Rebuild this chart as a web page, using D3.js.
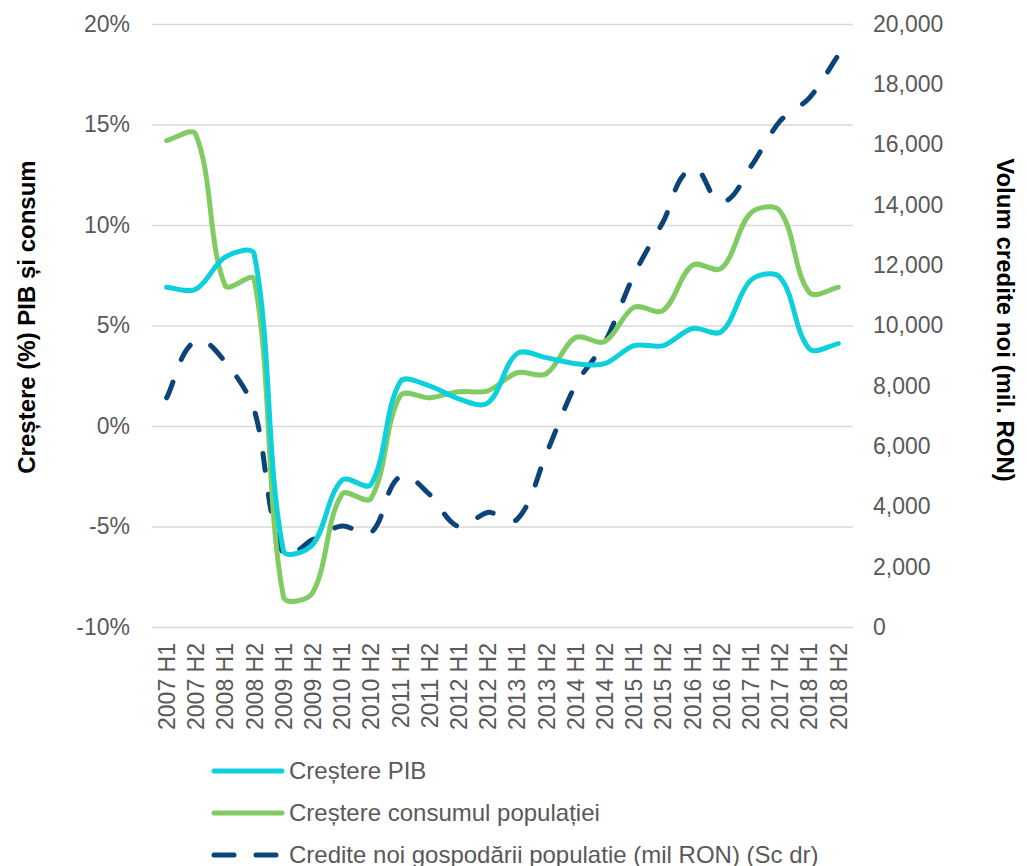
<!DOCTYPE html>
<html lang="ro">
<head>
    <meta charset="UTF-8">
    <title>PIB, consum si credite noi</title>
    <script src="https://d3js.org/d3.v7.min.js"></script>
    <style>
        body { margin: 0; background: #fff; }
        svg { font-family: "Liberation Sans", Arial, sans-serif; }
    </style>
</head>
<body>

<svg width="1027" height="866"></svg>

<script>

    // semestre
    var categories = ["2007 H1","2007 H2","2008 H1","2008 H2","2009 H1","2009 H2","2010 H1","2010 H2",
        "2011 H1","2011 H2","2012 H1","2012 H2","2013 H1","2013 H2","2014 H1","2014 H2",
        "2015 H1","2015 H2","2016 H1","2016 H2","2017 H1","2017 H2","2018 H1","2018 H2"];

    // cresterea PIB (%)
    var pib = [6.9, 6.8, 8.4, 8.55, -6.2, -5.9, -2.7, -2.9, 2.2, 2.0, 1.35, 1.15,
        3.6, 3.4, 3.1, 3.1, 4.0, 4.0, 4.85, 4.7, 7.25, 7.4, 3.85, 4.1];

    // cresterea consumului populatiei (%)
    var consum = [14.2, 14.5, 7.0, 7.3, -8.5, -8.3, -3.4, -3.6, 1.5, 1.4, 1.7, 1.75,
        2.65, 2.6, 4.4, 4.2, 5.9, 5.75, 8.0, 7.85, 10.6, 10.7, 6.65, 6.9];

    // credite noi gospodarii (mil RON), scala din dreapta
    var credite = [7600, 9500, 8800, 7200, 2400, 2900, 3350, 3130, 5000, 4400, 3330, 3800,
        3570, 5750, 8030, 9430, 11680, 13440, 15200, 14100, 15270, 16780, 17540, 18970];

    var leftTicks = [-10, -5, 0, 5, 10, 15, 20];
    var rightTicks = [0, 2000, 4000, 6000, 8000, 10000, 12000, 14000, 16000, 18000, 20000];

    var mLeft = 152, mRight = 853, mTop = 24, mBottom = 627;
    var w = mRight - mLeft, h = mBottom - mTop;

    var svg = d3.select('svg');
    var g = svg.append('g').attr('transform', 'translate(' + mLeft + ',' + mTop + ')');

    var x = d3.scaleBand().domain(categories).range([0, w]);
    var yL = d3.scaleLinear().domain([-10, 20]).range([h, 0]);
    var yR = d3.scaleLinear().domain([0, 20000]).range([h, 0]);

    // linii de grila
    var grid = g.append('g')
        .call(d3.axisLeft(yL).tickValues(leftTicks).tickSize(-w).tickFormat(''));
    grid.select('.domain').remove();
    grid.selectAll('line').attr('stroke', '#d9d9d9').attr('stroke-width', 1.5);

    // axa stanga
    var axL = g.append('g')
        .call(d3.axisLeft(yL).tickValues(leftTicks).tickSize(0).tickPadding(22)
            .tickFormat(function (d) { return d + '%'; }));
    axL.select('.domain').remove();

    // axa dreapta
    var axR = g.append('g')
        .attr('transform', 'translate(' + w + ',0)')
        .call(d3.axisRight(yR).tickValues(rightTicks).tickSize(0).tickPadding(20)
            .tickFormat(d3.format(',')));
    axR.select('.domain').remove();

    // axa x, etichete verticale
    var axX = g.append('g')
        .attr('transform', 'translate(0,' + h + ')')
        .call(d3.axisBottom(x).tickSize(0));
    axX.select('.domain').remove();
    axX.selectAll('text')
        .attr('transform', 'rotate(-90)')
        .attr('x', -16)
        .attr('y', 0)
        .attr('dy', '0.36em')
        .style('text-anchor', 'end');

    svg.selectAll('.tick text')
        .attr('fill', '#595959')
        .style('font-size', '23px')
        .style('font-family', '"Liberation Sans", Arial, sans-serif');

    // linie netezita (bezier, tangenta P[i+1]-P[i-1], lungime dupa segment) ca in Excel
    function smooth(values, yScale) {
        var pts = values.map(function (v, i) {
            return [x(categories[i]) + x.bandwidth() / 2, yScale(v)];
        });
        var n = pts.length, k = 0.3;
        function dir(i) {
            var a = pts[Math.max(i - 1, 0)], b = pts[Math.min(i + 1, n - 1)];
            var dx = b[0] - a[0], dy = b[1] - a[1], l = Math.hypot(dx, dy) || 1;
            return [dx / l, dy / l];
        }
        var p = d3.path();
        p.moveTo(pts[0][0], pts[0][1]);
        for (var i = 0; i < n - 1; i++) {
            var a = pts[i], b = pts[i + 1];
            var len = Math.hypot(b[0] - a[0], b[1] - a[1]) * k;
            var t1 = dir(i), t2 = dir(i + 1);
            p.bezierCurveTo(a[0] + t1[0] * len, a[1] + t1[1] * len,
                b[0] - t2[0] * len, b[1] - t2[1] * len, b[0], b[1]);
        }
        return p.toString();
    }

    g.append('path')
        .attr('d', smooth(credite, yR))
        .attr('fill', 'none')
        .attr('stroke', '#0b4478')
        .attr('stroke-width', 5)
        .attr('stroke-linecap', 'round')
        .attr('stroke-dasharray', '17,24');

    g.append('path')
        .attr('d', smooth(consum, yL))
        .attr('fill', 'none')
        .attr('stroke', '#80cc62')
        .attr('stroke-width', 5)
        .attr('stroke-linecap', 'round');

    g.append('path')
        .attr('d', smooth(pib, yL))
        .attr('fill', 'none')
        .attr('stroke', '#0dd0dc')
        .attr('stroke-width', 5)
        .attr('stroke-linecap', 'round');

    // titluri axe
    svg.append('text')
        .attr('transform', 'translate(35,317) rotate(-90)')
        .attr('text-anchor', 'middle')
        .style('font-size', '24px')
        .style('font-weight', 'bold')
        .text('Creștere (%) PIB și consum');

    svg.append('text')
        .attr('transform', 'translate(997,320) rotate(90)')
        .attr('text-anchor', 'middle')
        .style('font-size', '24px')
        .style('font-weight', 'bold')
        .text('Volum credite noi (mil. RON)');

    // legenda
    var legend = [
        {name: 'Creștere PIB', color: '#0dd0dc', dash: null},
        {name: 'Creștere consumul populației', color: '#80cc62', dash: null},
        {name: 'Credite noi gospodării populatie (mil RON) (Sc dr)', color: '#0b4478', dash: '20,22'}
    ];

    var lg = svg.append('g').selectAll('g')
        .data(legend)
        .enter()
        .append('g')
        .attr('transform', function (d, i) { return 'translate(0,' + (771 + i * 42) + ')'; });

    lg.append('line')
        .attr('x1', 214).attr('x2', 282)
        .attr('stroke', function (d) { return d.color; })
        .attr('stroke-width', 5)
        .attr('stroke-linecap', 'round')
        .attr('stroke-dasharray', function (d) { return d.dash; });

    lg.append('text')
        .attr('x', 289)
        .attr('dy', '0.35em')
        .attr('fill', '#595959')
        .style('font-size', '24px')
        .text(function (d) { return d.name; });

</script>
</body>
</html>
